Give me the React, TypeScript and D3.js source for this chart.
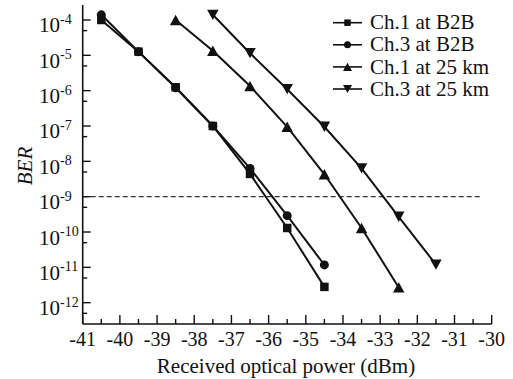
import * as d3 from 'd3';

const power = [-40.5, -39.5, -38.5, -37.5, -36.5, -35.5, -34.5];
const power25 = [-38.5, -37.5, -36.5, -35.5, -34.5, -33.5, -32.5];
const power25b = [-37.5, -36.5, -35.5, -34.5, -33.5, -32.5, -31.5];

const ch1B2B = [1.0e-4, 1.27e-5, 1.25e-6, 1.0e-7, 4.4e-9, 1.3e-10, 2.8e-12];
const ch3B2B = [1.4e-4, 1.27e-5, 1.2e-6, 1.0e-7, 6.3e-9, 2.9e-10, 1.17e-11];
const ch1Km25 = [1.0e-4, 1.35e-5, 1.35e-6, 9.5e-8, 4.3e-9, 1.3e-10, 2.7e-12];
const ch3Km25 = [1.4e-4, 1.15e-5, 1.1e-6, 9.5e-8, 6.3e-9, 2.7e-10, 1.2e-11];

const legendLabels = ['Ch.1 at B2B', 'Ch.3 at B2B', 'Ch.1 at 25 km', 'Ch.3 at 25 km'];
const xTicks = d3.range(-41, -29, 1);
const yExponents = [-4, -5, -6, -7, -8, -9, -10, -11, -12];
const berLimit = 1e-9;

type Marker = 'square' | 'circle' | 'up' | 'down';

const series: { x: number[]; y: number[]; marker: Marker }[] = [
  { x: power, y: ch1B2B, marker: 'square' },
  { x: power, y: ch3B2B, marker: 'circle' },
  { x: power25, y: ch1Km25, marker: 'up' },
  { x: power25b, y: ch3Km25, marker: 'down' },
];

const W = 513;
const H = 379;
const left = 82.7;
const right = 491.7;
const bottom = 324;
const top = 5;
const font = 'Liberation Serif';
const ink = '#111';

const x = d3.scaleLinear().domain([-41, -30]).range([left, right]);
const y = d3.scaleLog().domain([Math.pow(10, -12.603), Math.pow(10, -3.576)]).range([bottom, top]);

function markerPath(m: Marker, s: number) {
  const h = s / 2;
  if (m === 'square') return `M${-h},${-h}H${h}V${h}H${-h}Z`;
  if (m === 'circle') return `M${-h},0A${h},${h} 0 1,0 ${h},0A${h},${h} 0 1,0 ${-h},0Z`;
  // triangles: s is the base width
  const tw = s / 2;
  const th = s * 0.45;
  if (m === 'up') return `M0,${-th}L${tw},${th}L${-tw},${th}Z`;
  return `M0,${th}L${tw},${-th}L${-tw},${-th}Z`;
}

export default function App() {
  const line = d3.line<[number, number]>()
    .x(d => x(d[0]))
    .y(d => y(d[1]));

  const minor = yExponents.map(e => 5 * Math.pow(10, e - 1));

  return (
    <svg width={W} height={H} style={{ position: 'absolute', left: 0, top: 0, background: '#fff', fontFamily: font }}>
      {/* threshold */}
      <line x1={left} x2={482} y1={y(berLimit)} y2={y(berLimit)} stroke="#333" strokeWidth={1.3}
        strokeDasharray="5,3" />

      {/* axes */}
      <line x1={left} x2={left} y1={top} y2={bottom} stroke={ink} strokeWidth={1.6} />
      <line x1={left} x2={right} y1={bottom} y2={bottom} stroke={ink} strokeWidth={1.6} />

      {xTicks.map(t => (
        <g key={t}>
          <line x1={x(t)} x2={x(t)} y1={bottom} y2={bottom - 9} stroke={ink} strokeWidth={1.4} />
          {t < -30 && (
            <line x1={x(t + 0.5)} x2={x(t + 0.5)} y1={bottom} y2={bottom - 5} stroke={ink} strokeWidth={1.4} />
          )}
          <text x={x(t)} y={345.5} textAnchor="middle" fontSize={20} fill={ink}>{t}</text>
        </g>
      ))}

      {yExponents.map(e => (
        <g key={e}>
          <line x1={left} x2={left + 8} y1={y(Math.pow(10, e))} y2={y(Math.pow(10, e))} stroke={ink} strokeWidth={1.4} />
          <text x={39} y={y(Math.pow(10, e)) + 12.5} fontSize={21} fill={ink}>
            10<tspan fontSize={14} dy={-8.5}>{e}</tspan>
          </text>
        </g>
      ))}
      {minor.map(v => (
        <line key={v} x1={left} x2={left + 4.5} y1={y(v)} y2={y(v)} stroke={ink} strokeWidth={1.4} />
      ))}

      <text transform={`translate(32,166) rotate(-90)`} textAnchor="middle" fontSize={21}
        fontStyle="italic" fill={ink}>BER</text>
      <text x={286} y={373} textAnchor="middle" fontSize={21} fill={ink}>
        Received optical power (dBm)
      </text>

      {/* data */}
      {series.map((s, i) => {
        const pts = s.x.map((v, j) => [v, s.y[j]] as [number, number]);
        return (
          <g key={i}>
            <path d={line(pts) ?? ''} fill="none" stroke={ink} strokeWidth={2} />
            {pts.map((p, j) => (
              <path key={j} d={markerPath(s.marker, s.marker === 'circle' ? 9 : s.marker === 'square' ? 8.5 : 11.5)}
                transform={`translate(${x(p[0])},${y(p[1])})`} fill={ink} />
            ))}
          </g>
        );
      })}

      {/* legend */}
      {legendLabels.map((lab, i) => {
        const ly = 22.7 + i * 22.1;
        const m = series[i].marker;
        return (
          <g key={lab}>
            <line x1={333} x2={362} y1={ly} y2={ly} stroke={ink} strokeWidth={1.6} />
            <path d={markerPath(m, m === 'circle' ? 7 : m === 'square' ? 6.5 : 9)}
              transform={`translate(347.5,${ly})`} fill={ink} />
            <text x={370} y={ly + 6.6} fontSize={21} fill={ink}>{lab}</text>
          </g>
        );
      })}
    </svg>
  );
}
